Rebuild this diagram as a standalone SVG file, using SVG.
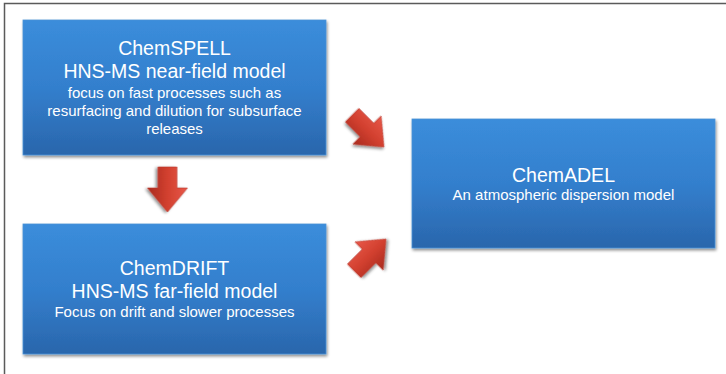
<svg xmlns="http://www.w3.org/2000/svg" width="726" height="374" viewBox="0 0 726 374">
<defs>
<linearGradient id="blue" x1="0" y1="0" x2="0" y2="1">
<stop offset="0" stop-color="#3b8ddb"/>
<stop offset="0.5" stop-color="#337fcd"/>
<stop offset="1" stop-color="#2a66ac"/>
</linearGradient>
<linearGradient id="red" x1="0" y1="0" x2="0" y2="1">
<stop offset="0" stop-color="#e8584a"/>
<stop offset="0.5" stop-color="#d2402f"/>
<stop offset="1" stop-color="#a82a1f"/>
</linearGradient>
<filter id="sh" x="-10%" y="-10%" width="125%" height="130%">
<feGaussianBlur in="SourceAlpha" stdDeviation="1.5"/>
<feOffset dx="1" dy="2" result="b"/>
<feComponentTransfer><feFuncA type="linear" slope="0.45"/></feComponentTransfer>
<feMerge><feMergeNode/><feMergeNode in="SourceGraphic"/></feMerge>
</filter>
<path id="arr" d="M0,0 L-24,-20 L-24,-9.5 L-45,-9.5 L-45,9.5 L-24,9.5 L-24,20 Z"/>
</defs>
<style>
.box{fill:url(#blue);stroke:#4a92d6;stroke-width:0.8;filter:url(#sh)}
.t{font-family:"Liberation Sans",Arial,sans-serif;fill:#ffffff;text-anchor:middle}
.big{font-size:19.5px}
.sm{font-size:15px}
.ar{fill:url(#red);stroke:#b8352a;stroke-width:0.6;filter:url(#sh)}
</style>
<rect width="726" height="374" fill="#ffffff"/>
<path d="M4.5,374 L4.5,3.5 L726,3.5" fill="none" stroke="#5a5a5a" stroke-width="1.5"/>

<g id="chemspell">
<rect class="box" x="23" y="20" width="303" height="135"/>
<text class="t big" x="174.5" y="55">ChemSPELL</text>
<text class="t big" x="174.5" y="78">HNS-MS near-field model</text>
<text class="t sm" x="174.5" y="98">focus on fast processes such as</text>
<text class="t sm" x="174.5" y="116">resurfacing and dilution for subsurface</text>
<text class="t sm" x="174.5" y="134">releases</text>
</g>

<g id="chemdrift">
<rect class="box" x="23" y="224" width="303" height="130"/>
<text class="t big" x="174.5" y="275">ChemDRIFT</text>
<text class="t big" x="174.5" y="298">HNS-MS far-field model</text>
<text class="t sm" x="174.5" y="317">Focus on drift and slower processes</text>
</g>

<g id="chemadel">
<rect class="box" x="412" y="119" width="303" height="129"/>
<text class="t big" x="563.5" y="182">ChemADEL</text>
<text class="t sm" x="563.5" y="200">An atmospheric dispersion model</text>
</g>

<g id="connectors">
<use href="#arr" class="ar" transform="translate(167.5,212) rotate(90)"/>
<use href="#arr" class="ar" transform="translate(384,147) rotate(45)"/>
<use href="#arr" class="ar" transform="translate(386,239) rotate(-45)"/>
</g>
</svg>
